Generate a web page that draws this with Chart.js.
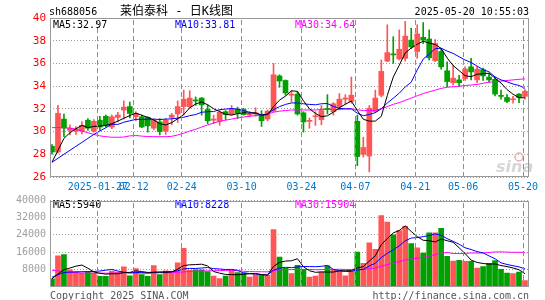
<!DOCTYPE html>
<html><head><meta charset="utf-8">
<script src="https://cdn.jsdelivr.net/npm/chart.js"></script>
<style>
html,body{margin:0;padding:0;background:#fff;}
#wrap{position:relative;width:545px;height:300px;overflow:hidden;background:#fff;}
canvas{position:absolute;left:0;}
</style></head><body>
<div id="wrap">
<canvas id="kc" width="545" height="196" style="top:0"></canvas>
<canvas id="vc" width="545" height="110" style="top:190px"></canvas>
</div>
<script>
// ---------------- data ----------------
const dates = ['01-15','01-16','01-17','01-20','01-21','01-22','01-23','01-24','01-27',
 '02-05','02-06','02-07','02-10','02-11','02-12','02-13','02-14','02-17','02-18','02-19','02-20','02-21','02-24','02-25','02-26','02-27','02-28',
 '03-03','03-04','03-05','03-06','03-07','03-10','03-11','03-12','03-13','03-14','03-17','03-18','03-19','03-20','03-21','03-24','03-25','03-26','03-27','03-28','03-31',
 '04-01','04-02','04-03','04-07','04-08','04-09','04-10','04-11','04-14','04-15','04-16','04-17','04-18','04-21','04-22','04-23','04-24','04-25','04-28','04-29','04-30',
 '05-06','05-07','05-08','05-09','05-12','05-13','05-14','05-15','05-16','05-19','05-20'];

const xTickDates  = ['01-27','02-12','02-24','03-10','03-24','04-07','04-21','05-06','05-20'];
const xTickLabels = ['2025-01-27','02-12','02-24','03-10','03-24','04-07','04-21','05-06','05-20'];

const open = [28.70,28.20,31.10,30.10,30.05,30.05,31.00,30.05,31.00,31.35, 30.40,31.25,31.90,32.20,31.30,31.30,31.25,30.30,30.85,30.05,
 31.25,31.55,32.20,32.20,32.75,32.95,31.95,31.00,30.90,31.75, 31.50,31.95,31.95,31.45,31.55,31.45,31.10,31.80,34.90,34.50,
 33.20,33.30,31.65,30.90,31.30,31.05,32.00,31.75,32.20,32.85, 32.65,30.90,28.00,27.85,31.75,33.20,36.20,36.80,36.40,36.45,
 38.05,37.05,38.30,38.15,36.25,37.05,35.35,34.30,34.55,34.65, 35.70,34.55,35.45,34.80,34.60,33.15,33.00,32.80,33.30,33.10];
const close = [28.20,31.60,30.30,30.30,30.25,30.55,30.30,30.90,30.40,30.55, 31.30,31.45,32.15,31.60,31.60,30.40,30.50,31.00,30.00,31.00,
 31.45,32.20,32.85,32.95,32.70,32.35,30.95,31.10,31.70,31.50, 32.00,31.60,31.50,31.55,31.65,30.95,31.80,35.00,34.45,33.40,
 33.30,31.55,30.85,30.95,31.35,31.85,31.95,32.45,32.85,32.95, 33.20,27.80,28.60,32.05,32.95,35.30,36.95,36.75,37.25,38.40,
 37.45,38.60,38.05,36.50,37.75,35.70,34.40,34.70,34.30,35.50, 35.25,35.50,34.90,34.55,33.30,33.10,32.65,32.85,33.00,33.55];
const high = [28.85,32.30,31.55,30.60,30.45,30.85,31.15,31.05,31.35,31.45, 31.45,31.70,32.70,32.60,31.75,31.45,31.30,31.10,31.15,31.15,
 31.60,32.70,33.65,33.60,33.05,33.00,32.35,31.45,31.85,31.85, 32.30,32.15,32.05,31.75,32.10,31.85,31.90,36.00,35.00,34.55,
 33.60,33.50,31.75,31.20,31.75,32.30,33.25,32.55,33.35,33.25, 34.80,31.45,29.50,32.30,33.65,36.30,39.40,38.35,38.95,39.70,
 39.10,39.40,39.60,38.95,38.10,37.30,36.15,35.85,34.95,35.70, 36.45,35.75,35.60,35.10,34.80,33.65,33.25,33.10,33.35,33.70];
const low = [28.00,28.10,29.55,29.70,29.75,29.80,30.10,29.95,30.10,30.40, 30.25,30.85,31.10,31.20,30.95,30.35,29.95,30.15,29.70,29.75,
 30.60,30.80,31.45,32.05,32.30,31.45,30.70,30.70,30.55,31.05, 31.45,31.15,31.45,31.30,31.35,30.45,30.95,31.75,33.90,33.20,
 32.60,31.45,29.95,30.30,30.55,30.60,31.55,31.45,31.90,32.40, 32.50,27.00,27.75,26.45,31.65,33.05,36.15,36.00,36.30,36.20,
 37.30,36.45,37.75,36.30,36.15,35.50,33.95,34.10,33.95,34.50, 34.55,34.30,34.50,34.35,33.15,32.85,32.55,32.50,32.55,32.85];

const ma5 = [27.30,28.35,29.40,29.90,30.25,30.55,30.34,30.46,30.48,30.54, 30.69,30.92,31.17,31.41,31.62,31.44,31.25,31.02,30.70,30.58,
 30.79,31.13,31.50,32.09,32.43,32.61,32.36,32.01,31.76,31.52, 31.45,31.58,31.66,31.63,31.66,31.45,31.49,32.19,32.77,33.12,
 33.59,33.54,32.71,32.01,31.60,31.31,31.39,31.71,32.09,32.41, 32.68,31.85,31.08,30.92,30.92,31.34,33.17,34.80,35.84,36.93,
 37.36,37.69,37.95,37.80,37.67,37.32,36.48,35.81,35.37,34.92, 34.83,35.05,35.09,35.14,34.70,34.27,33.70,33.29,32.98,32.97];
const ma10 = [27.30,27.65,28.00,28.35,28.70,29.05,29.40,29.75,30.05,30.34, 30.65,30.63,30.82,30.95,31.08,31.07,31.09,31.10,31.06,31.10,
 31.12,31.19,31.26,31.40,31.50,31.70,31.75,31.76,31.93,31.98, 32.03,31.97,31.84,31.70,31.59,31.45,31.54,31.93,32.20,32.39,
 32.52,32.52,32.45,32.39,32.36,32.45,32.47,32.21,32.05,32.00, 32.00,31.62,31.40,31.50,31.67,32.01,32.51,32.94,33.38,33.93,
 34.35,35.43,36.38,36.82,37.30,37.34,37.09,36.88,36.59,36.30, 36.08,35.77,35.45,35.26,34.81,34.55,34.38,34.19,34.06,33.81];
const ma30 = [30.35,30.35,30.35,30.30,30.20,30.05,29.90,29.75,29.62,29.55, 29.50,29.50,29.52,29.62,29.65,29.60,29.56,29.55,29.55,29.55,
 29.58,29.70,29.85,30.05,30.20,30.40,30.58,30.75,30.90,31.00, 31.10,31.20,31.28,31.35,31.40,31.45,31.55,31.70,31.80,31.85,
 31.90,31.90,31.90,31.90,31.90,31.95,31.95,31.95,31.95,32.00, 32.00,31.92,31.85,31.85,31.88,32.00,32.20,32.40,32.55,32.75,
 32.95,33.15,33.35,33.50,33.65,33.80,33.90,33.95,34.00,34.05, 34.10,34.15,34.25,34.35,34.40,34.45,34.50,34.55,34.60,34.64];

const volume = [3600,14300,14800,7800,6800,6200,6900,6200,4700,4700, 7200,6700,9200,5000,8300,5500,4700,9700,5500,7300,
 6900,11000,17800,7500,7800,7800,6900,4800,3700,4800, 7500,6500,6200,4400,5500,5200,5200,26500,13700,8500,
 6000,9800,8000,4400,4800,6800,9600,8000,7300,5000, 7000,16000,10800,20300,17300,33000,30000,24000,26000,28000,
 20000,18000,15500,25000,25000,27000,14000,11800,12200,11700, 11700,8600,9300,10800,12000,8000,6300,6000,6700,2800];
const vma5 = [3600,5800,7800,8600,9460,9980,8500,6780,6160,5740, 5940,5900,6500,6560,7280,6940,6540,6640,6740,6540,
 6820,8080,9700,10100,10200,10380,9560,6960,6200,5600, 5540,5460,5740,5880,6020,5560,5300,9360,11220,11820,
 11980,12900,9200,7340,6600,6760,6720,6720,7300,7340, 7380,8660,9220,11820,14280,19480,22280,24920,26060,28200,
 25600,23200,21500,21300,20700,22100,21300,20560,18000,15340, 12280,11200,10700,10420,10480,9740,9280,8620,7800,5940];
const vma10 = [4300,5500,6500,6700,6800,6900,6900,7000,7200,7600, 7960,7200,6640,6360,6510,6440,6220,6570,6650,6910,
 6880,7310,8170,8420,8370,8600,8820,8330,8150,7900, 7960,7510,6350,6040,5810,5550,5380,7550,8550,8920,
 8770,9100,9280,9280,9210,9370,9810,7960,7320,6970, 7070,7690,7970,9560,10810,13430,15470,17070,18940,21240,
 22540,22740,23210,23680,24450,23850,22250,21030,19650,18020, 17190,16250,15630,14210,12910,11010,10240,9660,9110,8228];
const vma30 = [7600,7200,6900,6600,6400,6300,6200,6200,6200,6200, 6200,6300,6300,6300,6300,6300,6300,6300,6400,6400,
 6500,6600,6800,7000,7100,7200,7300,7300,7400,7470, 7600,7340,7050,6940,6900,6860,6810,7480,7780,7910,
 7870,7970,7930,7910,7800,7840,8000,7950,8010,7930, 7930,8100,7870,8290,8610,9450,10220,10860,11600,12380,
 12790,13180,13490,14170,14820,15550,15840,15350,15300,15410, 15600,15560,15600,15820,16060,16100,15990,15920,15900,15904];

const stockCode = 'sh688056';
const titleText = '莱伯泰科 - 日K线图';
const timeText  = '2025-05-20 10:55:03';
const copyLeft  = 'Copyright 2025 SINA.COM';
const copyRight = 'http://finance.sina.com.cn';

// ---------------- style ----------------
const MONO = "'DejaVu Sans Mono', 'Liberation Mono', monospace";
const RED = '#ff5555', GREEN = '#00a000';
const C5 = '#000000', C10 = '#0000ff', C30 = '#ff00ff';
const FRAME = '#999999';
const VGRID = '#8c8c8c';
const SHIFT = 0.33;

const n = dates.length;
const candleColor = close.map((c, i) => c >= open[i] ? RED : GREEN);
const tickIdx = xTickDates.map(d => dates.indexOf(d));
const pts = arr => arr.map((v, i) => ({x: i, y: v}));

function xScale(showLabels, h) {
  return {
    type: 'linear', offset: false, min: -SHIFT, max: n - 1 + (1 - SHIFT),
    afterBuildTicks: s => { s.ticks = tickIdx.map(k => ({value: k - SHIFT})); },
    ticks: {display: showLabels, autoSkip: false, maxRotation: 0, minRotation: 0,
            color: '#0078c8', font: {family: MONO, size: 10}, padding: 4,
            callback: (v, i) => xTickLabels[i]},
    grid: {display: false, drawTicks: false, offset: false},
    border: {display: false},
    afterFit: s => { s.height = h; s.paddingLeft = 0; s.paddingRight = 0; }
  };
}

// dashed vertical date lines (through the x scale) + panel frame
const framePlugin = {
  id: 'panelFrame',
  afterDraw(chart) {
    const ctx = chart.ctx;
    const a = chart.chartArea;
    const xs = chart.scales.x;
    const top = Math.round(a.top), bottom = Math.round(a.bottom);
    ctx.save();
    ctx.globalAlpha = 1;
    ctx.globalCompositeOperation = 'source-over';
    ctx.fillStyle = VGRID;
    tickIdx.forEach(k => {
      const px = Math.floor(xs.getPixelForValue(k - SHIFT));
      for (let y = top + 2; y < bottom - 1; y += 8) {
        ctx.fillRect(px, y, 1, Math.min(5, bottom - 1 - y));
      }
    });
    ctx.strokeStyle = FRAME; ctx.lineWidth = 1;
    ctx.setLineDash([]);
    ctx.strokeRect(Math.round(a.left) + 0.5, top + 0.5,
                   Math.round(a.right - a.left) - 1, bottom - top - 1);
    ctx.restore();
  }
};

function lineDs(label, arr, color, order) {
  return {type: 'line', label, data: pts(arr), borderColor: color, borderWidth: 1,
          pointRadius: 0, tension: 0, fill: false, order};
}

// ---------------- price chart ----------------
const kText = {
  id: 'kText',
  beforeDatasetsDraw(chart) {
    const ctx = chart.ctx;
    ctx.save();
    ctx.fillStyle = '#d6d6d6';
    ctx.font = "italic bold 16px 'DejaVu Sans'";
    ctx.textAlign = 'left'; ctx.textBaseline = 'alphabetic';
    ctx.fillText('sina', 496, 172);
    ctx.strokeStyle = '#eab0b0'; ctx.lineWidth = 1.5;
    ctx.beginPath(); ctx.arc(519, 157, 4, 0, Math.PI * 2); ctx.stroke();
    ctx.restore();
  },
  afterDraw(chart) {
    const ctx = chart.ctx;
    ctx.save();
    ctx.textBaseline = 'middle';
    ctx.font = '10px ' + MONO;
    ctx.fillStyle = '#000'; ctx.textAlign = 'left';
    ctx.fillText(stockCode, 49, 12);
    ctx.textAlign = 'right';
    ctx.fillText(timeText, 529, 12);
    ctx.textAlign = 'left';
    ctx.font = "12px 'DejaVu Sans Mono', 'Noto Sans CJK SC'";
    ctx.fillText(titleText, 120, 12);
    ctx.font = '10px ' + MONO;
    ctx.fillStyle = C5;  ctx.fillText('MA5:' + ma5[n - 1].toFixed(2), 53, 25);
    ctx.fillStyle = C10; ctx.fillText('MA10:' + ma10[n - 1].toFixed(2), 175, 25);
    ctx.fillStyle = C30; ctx.fillText('MA30:' + ma30[n - 1].toFixed(2), 295, 25);
    ctx.restore();
  }
};

new Chart(document.getElementById('kc'), {
  type: 'bar',
  data: {datasets: [
    lineDs('MA5', ma5, C5, 0),
    lineDs('MA10', ma10, C10, 1),
    lineDs('MA30', ma30, C30, 2),
    {type: 'bar', label: 'body', data: open.map((o, i) => ({x: i, y: [o, close[i]]})),
     backgroundColor: candleColor, barThickness: 5, minBarLength: 1, grouped: false, order: 3},
    {type: 'bar', label: 'wick', data: low.map((l, i) => ({x: i, y: [l, high[i]]})),
     backgroundColor: candleColor, barThickness: 1, grouped: false, order: 4}
  ]},
  options: {
    responsive: false, animation: false, devicePixelRatio: 1, events: [],
    layout: {padding: {top: 18, right: 16, bottom: 0, left: 0}},
    plugins: {legend: {display: false}, tooltip: {enabled: false}},
    scales: {
      x: xScale(true, 19),
      y: {min: 26, max: 40,
          ticks: {stepSize: 2, color: '#ff0000', font: {family: MONO, size: 11}, padding: 4},
          grid: {color: '#a0a0a0', drawTicks: false},
          border: {display: false, dash: [1, 2]},
          afterFit: s => { s.width = 50; }}
    }
  },
  plugins: [kText, framePlugin]
});

// ---------------- volume chart ----------------
const vText = {
  id: 'vText',
  afterDraw(chart) {
    const ctx = chart.ctx;
    ctx.save();
    ctx.textBaseline = 'middle'; ctx.textAlign = 'left';
    ctx.font = '10px ' + MONO;
    ctx.fillStyle = C5;  ctx.fillText('MA5:' + vma5[n - 1], 53, 15.5);
    ctx.fillStyle = C10; ctx.fillText('MA10:' + vma10[n - 1], 175, 15.5);
    ctx.fillStyle = C30; ctx.fillText('MA30:' + vma30[n - 1], 295, 15.5);
    ctx.fillStyle = '#555';
    ctx.fillText(copyLeft, 50, 106);
    ctx.textAlign = 'right';
    ctx.fillText(copyRight, 529, 106);
    ctx.restore();
  }
};

new Chart(document.getElementById('vc'), {
  type: 'bar',
  data: {datasets: [
    lineDs('MA5', vma5, C5, 0),
    lineDs('MA10', vma10, C10, 1),
    lineDs('MA30', vma30, C30, 2),
    {type: 'bar', label: 'vol', data: volume.map((v, i) => ({x: i, y: v})),
     backgroundColor: candleColor, barThickness: 5, grouped: false, order: 3}
  ]},
  options: {
    responsive: false, animation: false, devicePixelRatio: 1, events: [],
    layout: {padding: {top: 10.5, right: 16, bottom: 0, left: 0}},
    plugins: {legend: {display: false}, tooltip: {enabled: false}},
    scales: {
      x: xScale(false, 13.5),
      y: {min: 0, max: 40000,
          ticks: {stepSize: 8000, color: '#a0a0a0', font: {family: MONO, size: 10}, padding: 4,
                  callback: v => v === 0 ? '' : String(v)},
          grid: {color: '#a0a0a0', drawTicks: false},
          border: {display: false, dash: [1, 2]},
          afterFit: s => { s.width = 50; }}
    }
  },
  plugins: [vText, framePlugin]
});
</script>
</body></html>
